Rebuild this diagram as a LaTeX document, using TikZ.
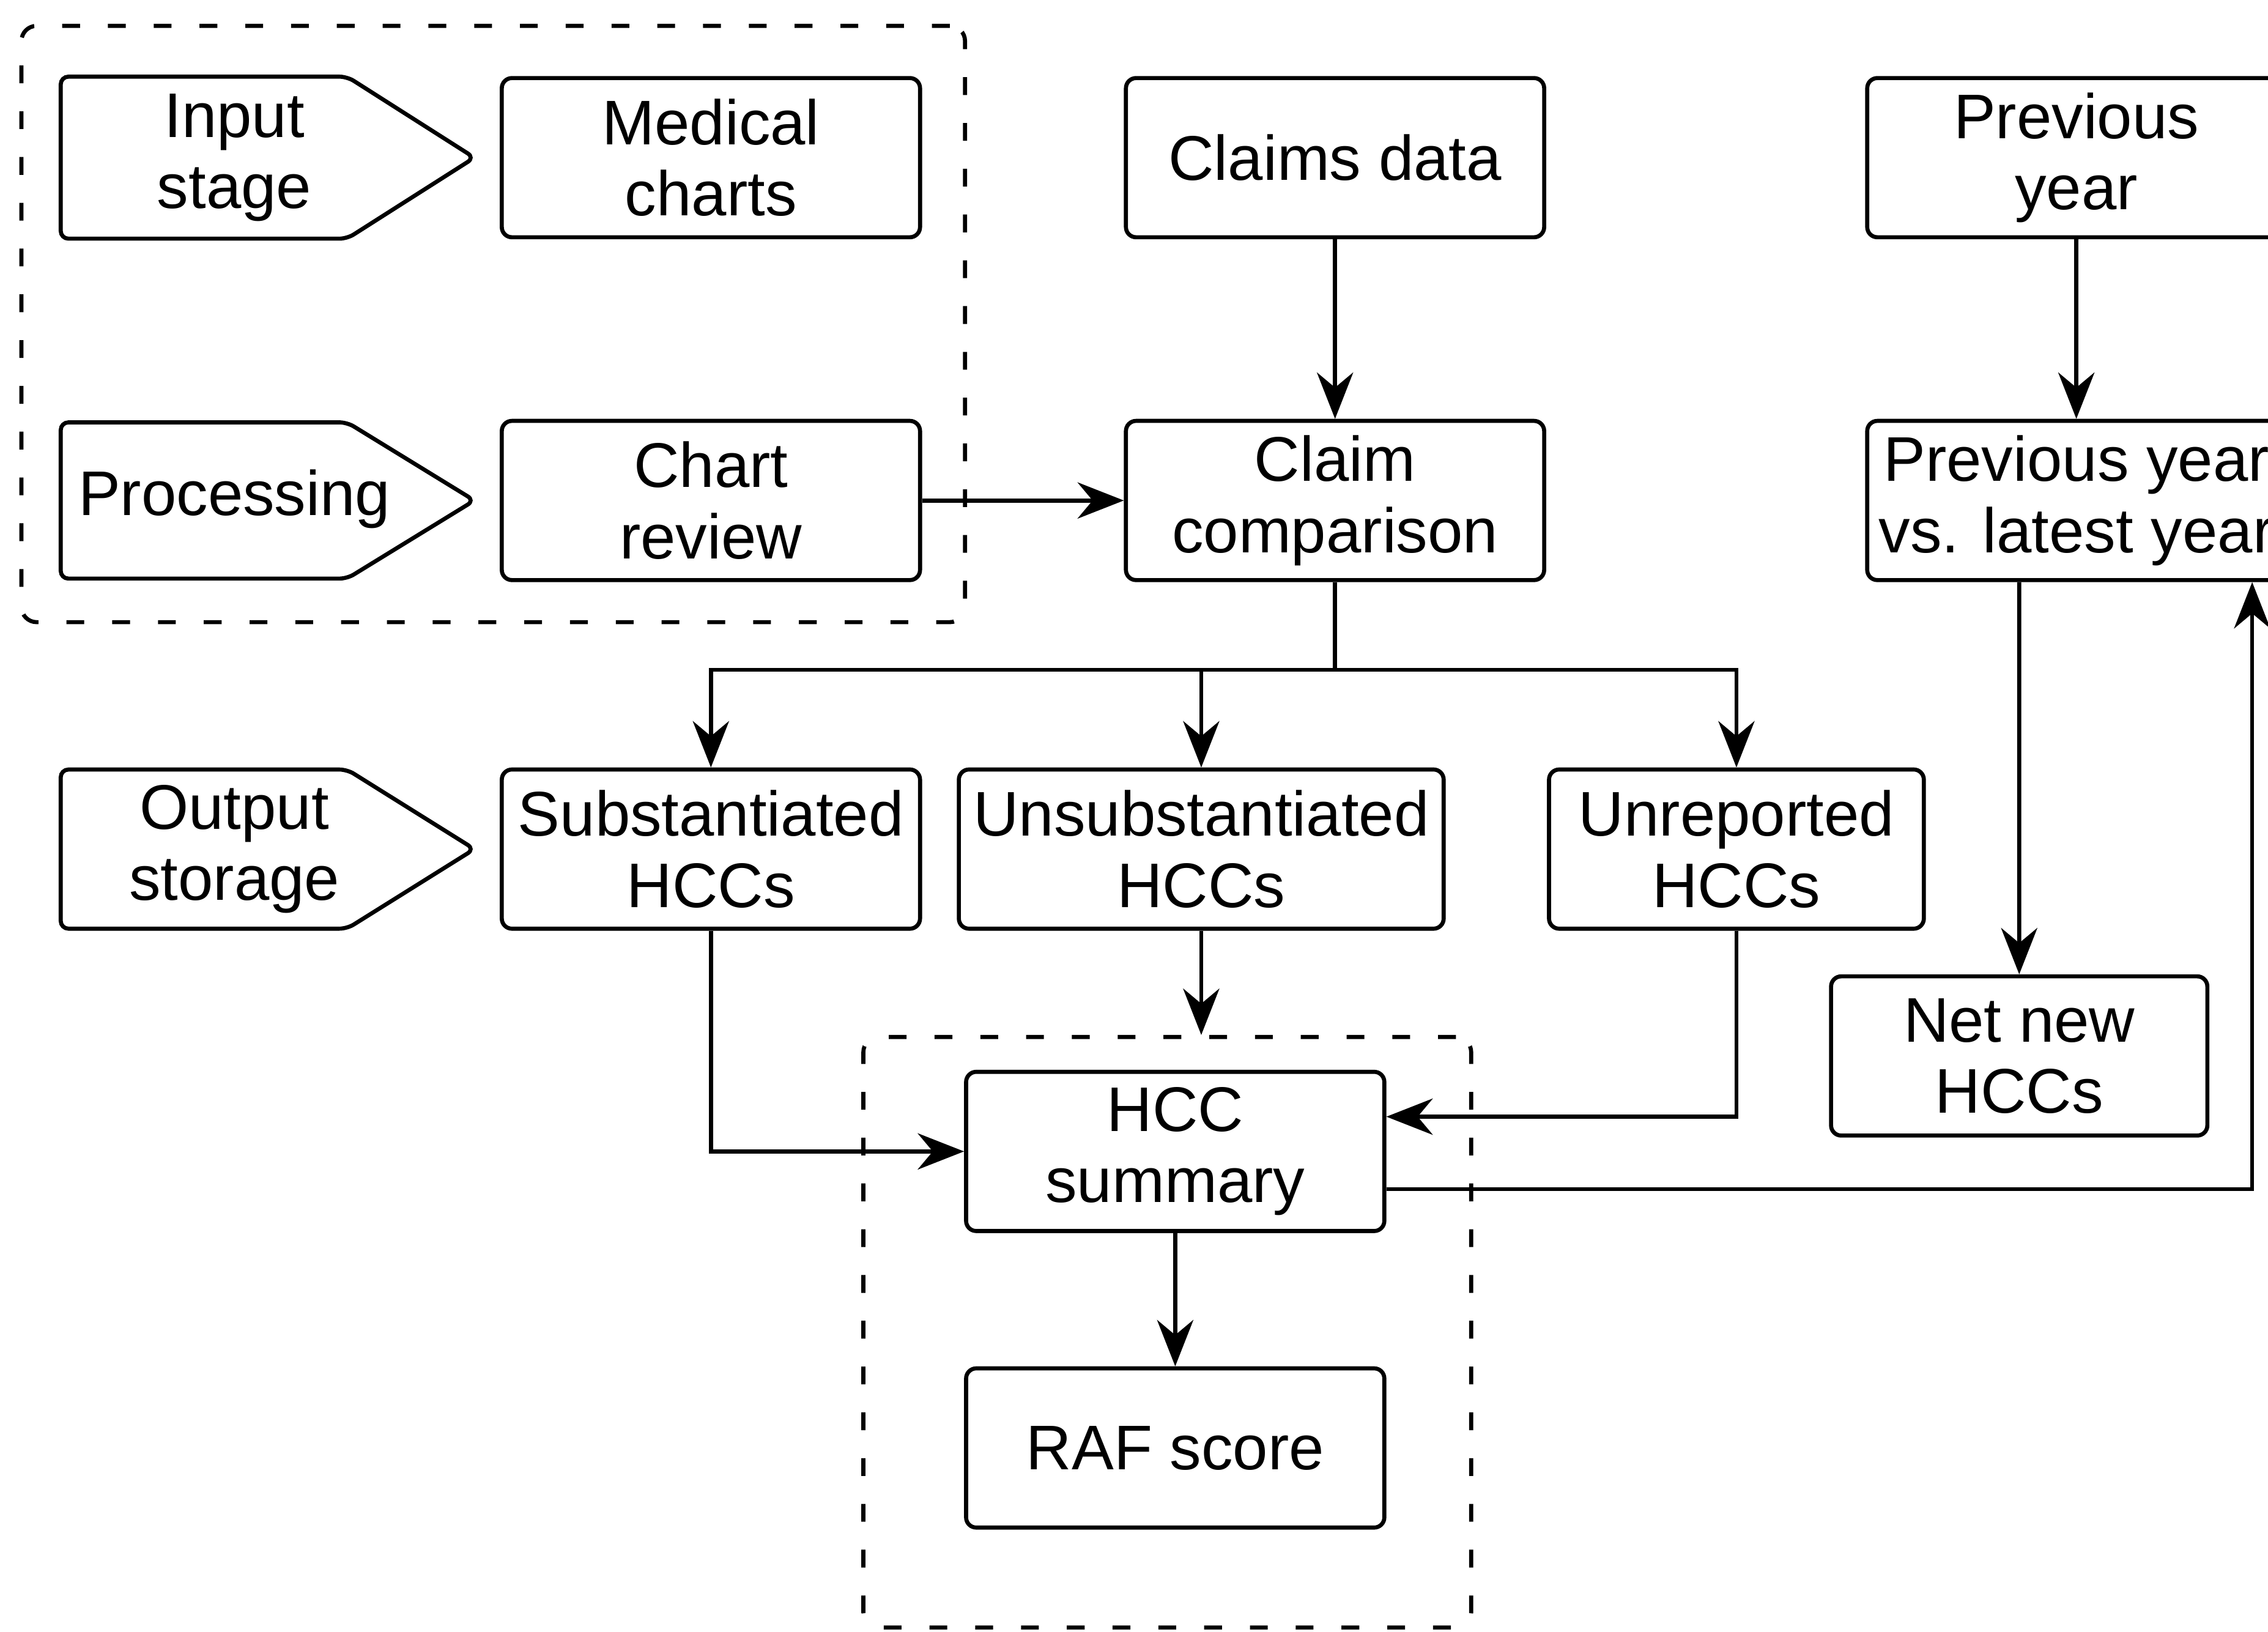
\documentclass[tikz,border=0pt]{standalone}
\usepackage{fontspec}
\setmainfont{Liberation Sans}
\usetikzlibrary{arrows.meta}
\begin{document}
\begin{tikzpicture}[x=0.01cm,y=-0.01cm,
  font=\fontsize{12.4}{14}\selectfont,
  box/.style={draw,line width=0.8pt,rounded corners=2pt,align=center,
    inner sep=1pt,minimum height=1.1cm,minimum width=2.89cm},
  tagline/.style={draw,line width=0.8pt,rounded corners=1.5pt},
  tagtext/.style={align=center,inner sep=1pt},
  groupbox/.style={draw,line width=0.8pt,dash pattern=on 3.5pt off 5.5pt,
    rounded corners=3pt,inner sep=0pt},
  link/.style={line width=0.8pt},
  arr/.style={line width=0.8pt,-{Stealth[length=3.2mm,width=2.5mm]}}]
\useasboundingbox (0,0) rectangle (1568,1128);

% dashed groups
\node[groupbox,minimum width=6.52cm,minimum height=4.12cm] (g1) at (341,224) {};
\node[groupbox,minimum width=4.20cm,minimum height=4.08cm] (g2) at (807,921) {};

% stage tags
\draw[tagline] (42,53) -- (240,53) -- (328,109) -- (240,165) -- (42,165) -- cycle;
\node[tagtext] (tin) at (162,109) {Input\\stage};
\draw[tagline] (42,292) -- (240,292) -- (328,346) -- (240,400) -- (42,400) -- cycle;
\node[tagtext] (tproc) at (162,345) {Processing};
\draw[tagline] (42,532) -- (240,532) -- (328,587) -- (240,642) -- (42,642) -- cycle;
\node[tagtext] (tout) at (162,587) {Output\\storage};

% boxes
\node[box] (med) at (491.5,109) {Medical\\charts};
\node[box] (chart) at (491.5,346) {Chart\\review};
\node[box] (claims) at (923,109) {Claims data};
\node[box] (comp) at (923,346) {Claim\\comparison};
\node[box] (prev) at (1435.5,109) {Previous\\year};
\node[box] (pvl) at (1435.5,346) {Previous year\\vs. latest year};
\node[box] (sub) at (491.5,587) {Substantiated\\HCCs};
\node[box,minimum width=3.35cm] (unsub) at (830.5,587) {Unsubstantiated\\HCCs};
\node[box,minimum width=2.59cm] (unrep) at (1200.5,587) {Unreported\\HCCs};
\node[box,minimum width=2.60cm] (net) at (1396,730) {Net new\\HCCs};
\node[box] (hcc) at (812.5,796) {HCC\\summary};
\node[box] (raf) at (812.5,1001) {RAF score};

% connectors
\draw[arr] (claims) -- (comp);
\draw[arr] (prev) -- (pvl);
\draw[arr] (chart) -- (comp);
\coordinate (split) at (923,463);
\draw[link] (comp.south) -- (split);
\draw[arr] (split) -| (sub.north);
\draw[arr] (split) -| (unsub.north);
\draw[arr] (split) -| (unrep.north);
\draw[arr] (sub.south) |- (hcc.west);
\draw[arr] (unsub.south) -- (unsub.south |- g2.north);
\draw[arr] (unrep.south) |- ([yshift=0.24cm]hcc.east);
\draw[arr] ([yshift=-0.26cm]hcc.east) -| ([xshift=1.215cm]pvl.south);
\draw[arr] ([xshift=-0.395cm]pvl.south) -- (net.north);
\draw[arr] (hcc) -- (raf);
\end{tikzpicture}
\end{document}
